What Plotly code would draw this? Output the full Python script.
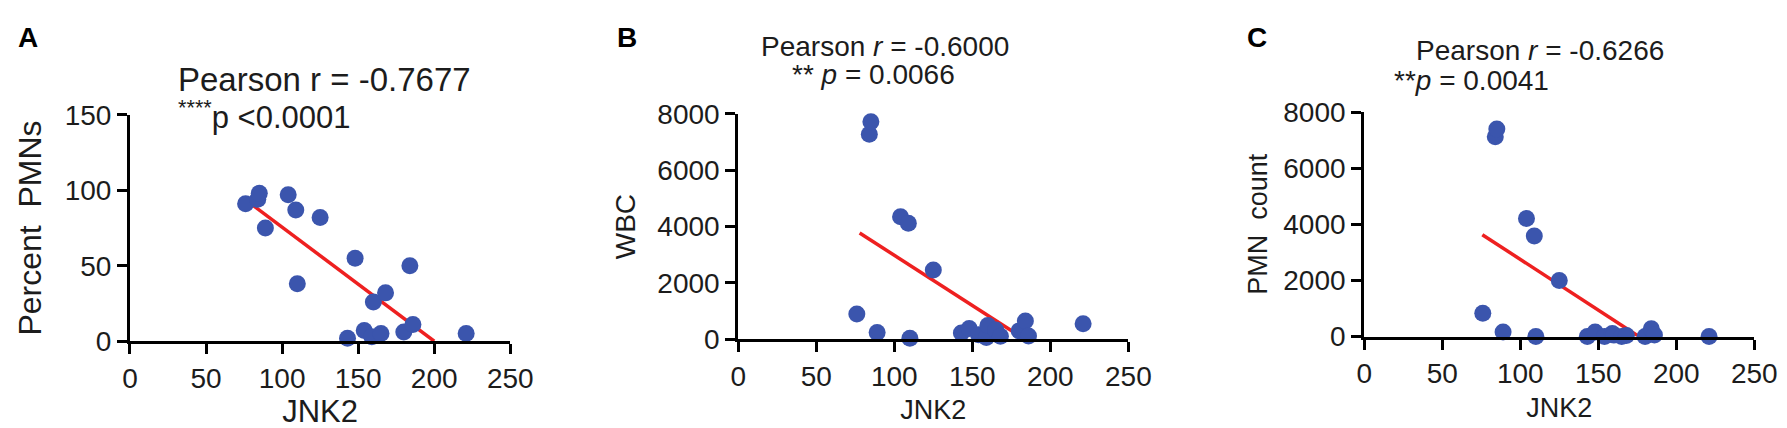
import plotly.graph_objects as go

# ---------------- data ----------------
jnk2 = [76, 84, 85, 89, 104, 109, 110, 125, 143, 148, 154, 159, 160, 165, 168, 180, 184, 186, 221]
percent_pmn = [91, 94, 98, 75, 97, 87, 38, 82, 2, 55, 7, 3, 26, 5, 32, 6, 50, 11, 5]
wbc = [900, 7280, 7720, 240, 4350, 4120, 40, 2460, 220, 380, 165, 60, 490, 330, 110, 300, 650, 120, 550]
pmn_count = [830, 7120, 7400, 165, 4210, 3580, 0, 2000, 0, 165, 0, 110, 50, 0, 33, 0, 275, 55, 0]

fit_a_x = [77.6, 200]
fit_a_y = [92.5, 0]
fit_b_x = [77.8, 183]
fit_b_y = [3774, 22]
fit_c_x = [75.7, 176]
fit_c_y = [3630, 0]

x_ticks = [0, 50, 100, 150, 200, 250]
y_ticks_a = [0, 50, 100, 150]
y_ticks_bc = [0, 2000, 4000, 6000, 8000]

# ---------------- style ----------------
W, H = 1787, 428
BLUE = "#3b55ad"
RED = "#ee2020"
INK = "#1c1c1c"
FONT = "Arial, Liberation Sans, sans-serif"


def px_x(p):
    return p / W


def px_y(p):
    return (H - p) / H


fig = go.Figure()

panels = [
    ("", percent_pmn, fit_a_x, fit_a_y),
    ("2", wbc, fit_b_x, fit_b_y),
    ("3", pmn_count, fit_c_x, fit_c_y),
]
for suf, yv, fx, fy in panels:
    fig.add_trace(go.Scatter(x=fx, y=fy, mode="lines", line=dict(color=RED, width=3.5),
                             xaxis="x" + suf, yaxis="y" + suf, showlegend=False, cliponaxis=False))
    fig.add_trace(go.Scatter(x=jnk2, y=yv, mode="markers",
                             marker=dict(color=BLUE, size=17, line=dict(width=0)),
                             xaxis="x" + suf, yaxis="y" + suf, showlegend=False, cliponaxis=False))


def xax(dom, anchor, tsize, ttl_size, standoff):
    return dict(domain=dom, anchor=anchor, range=[0, 250], tickvals=x_ticks,
                showline=True, linecolor="black", linewidth=3, ticks="outside",
                ticklen=10, tickwidth=3, tickcolor="black", showgrid=False, zeroline=False,
                tickfont=dict(size=tsize, family=FONT, color=INK),
                title=dict(text="JNK2", font=dict(size=ttl_size, family=FONT, color=INK), standoff=standoff))


def yax(dom, anchor, rng, tv, title, tsize, ttl_size, standoff):
    return dict(domain=dom, anchor=anchor, range=rng, tickvals=tv,
                showline=True, linecolor="black", linewidth=3, ticks="outside",
                ticklen=10, tickwidth=3, tickcolor="black", showgrid=False, zeroline=False,
                tickfont=dict(size=tsize, family=FONT, color=INK),
                title=dict(text=title, font=dict(size=ttl_size, family=FONT, color=INK), standoff=standoff))


layout = dict(
    width=W, height=H, margin=dict(l=0, r=0, t=0, b=0),
    paper_bgcolor="white", plot_bgcolor="white", showlegend=False,
    xaxis=xax([px_x(116), px_x(503)], "y", 28, 31, 6),
    yaxis=yax([px_y(343), px_y(99)], "x", [0, 150], y_ticks_a, "Percent  PMNs", 28, 32, 14),
    xaxis2=xax([px_x(735), px_x(1132)], "y2", 28, 27, 10),
    yaxis2=yax([px_y(341), px_y(98)], "x2", [0, 8000], y_ticks_bc, "WBC", 28, 28, 14),
    xaxis3=xax([px_x(1372), px_x(1769)], "y3", 28, 27, 10),
    yaxis3=yax([px_y(338), px_y(96)], "x3", [0, 8000], y_ticks_bc, "PMN  count", 28, 27, 8),
)

ann = []


def text(x, y, s, size, bold=False, anchor="left"):
    ann.append(dict(x=px_x(x), y=px_y(y), xref="paper", yref="paper", text=s, showarrow=False,
                    xanchor=anchor, yanchor="middle",
                    font=dict(size=size, family=FONT, color="black" if bold else INK)))


text(0, 16, "<b>A</b>", 28, True)
text(610, 16, "<b>B</b>", 28, True)
text(1251, 16, "<b>C</b>", 28, True)

text(163, 61, "Pearson r = -0.7677", 33)
text(163, 99, "<sup>****</sup>p <0.0001", 31)

text(756, 25, "Pearson <i>r</i> = -0.6000", 28)
text(788, 55, "** <i>p</i> = 0.0066", 28)

text(1423, 30, "Pearson <i>r</i> = -0.6266", 28)
text(1400, 62, "**<i>p</i> = 0.0041", 28)

layout["annotations"] = ann
fig.update_layout(**layout)
fig.write_html("out.html")
